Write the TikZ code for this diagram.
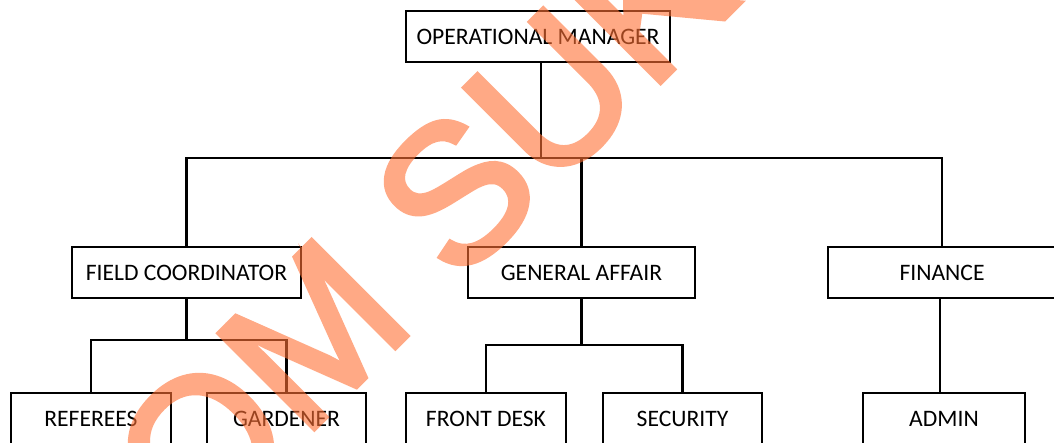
\documentclass[tikz,border=0pt]{standalone}
\usepackage{fontspec}
\setmainfont{Carlito}
\newfontfamily\wmfont[FakeBold=2.6]{Liberation Sans}
\definecolor{wmcol}{RGB}{255,112,52}
\begin{document}
\begin{tikzpicture}[x=1pt,y=1pt,
  box/.style={draw, line width=1.9pt, inner sep=0pt, minimum height=51pt,
    font=\fontsize{23.6}{26}\selectfont},
  conn/.style={line width=2.1pt}]
\useasboundingbox (0,0) rectangle (1054,442);
\clip (0,0) rectangle (1054,442);
\fill[white] (0,0) rectangle (1054,442);
% level 0
\node[box, minimum width=264pt] (om) at (538,405.5) {OPERATIONAL MANAGER};
% level 1
\node[box, minimum width=229pt] (fc) at (186.5,169.5) {FIELD COORDINATOR};
\node[box, minimum width=227pt] (ga) at (581.5,169.5) {GENERAL AFFAIR};
\node[box, minimum width=228pt] (fin) at (942,169.5) {FINANCE};
% level 2
\node[box, minimum width=160pt] (ref) at (91,23.5) {REFEREES};
\node[box, minimum width=159pt] (gar) at (286.5,23.5) {GARDENER};
\node[box, minimum width=160pt] (fd) at (486,23.5) {FRONT DESK};
\node[box, minimum width=159pt] (sec) at (682.5,23.5) {SECURITY};
\node[box, minimum width=162pt] (adm) at (944,23.5) {ADMIN};
% junctions
\coordinate (bus) at (541,284);
\coordinate (bfc) at (186,102);
\coordinate (bga) at (581,97);
\coordinate (dfin) at (940,0);
% connectors
\draw[conn] (om.south -| bus) -- (bus);
\draw[conn] (fc.north) |- (fin.north |- bus) -- (fin.north);
\draw[conn] (ga.north) -- (ga.north |- bus);
\draw[conn] (fc.south) -- (fc.south |- bfc);
\draw[conn] (ref.north) |- (gar.north |- bfc) -- (gar.north);
\draw[conn] (ga.south) -- (ga.south |- bga);
\draw[conn] (fd.north) |- (sec.north |- bga) -- (sec.north);
\draw[conn] (fin.south -| dfin) -- (adm.north -| dfin);
% watermark
\begin{scope}[transparency group, opacity=0.6]
\node[text=wmcol, rotate=45, anchor=base west, inner sep=0pt,
  font=\wmfont\fontsize{196}{200}\selectfont] (wm) at (195,-106) {OM SUK};
\end{scope}
\end{tikzpicture}
\end{document}
